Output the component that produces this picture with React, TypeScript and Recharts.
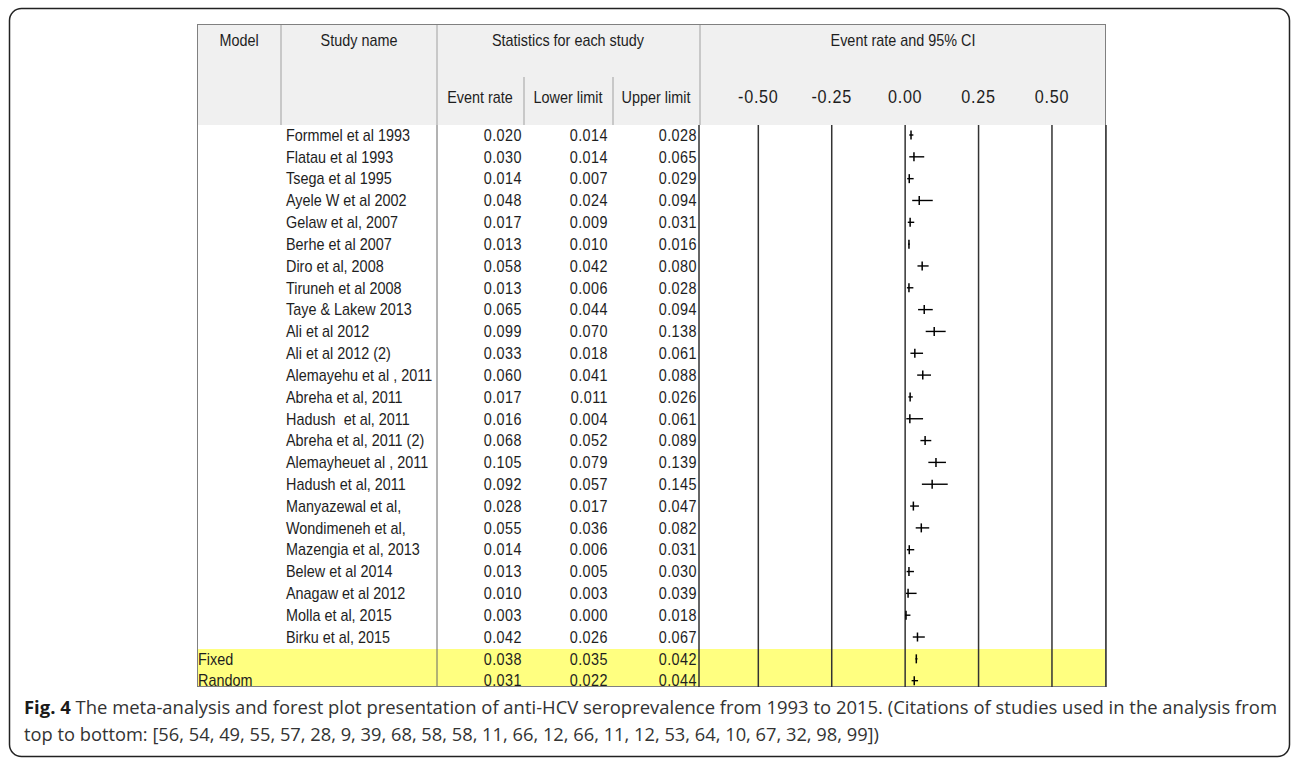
import React from "react";
import { ComposedChart, Scatter, XAxis, YAxis, CartesianGrid, ErrorBar } from "recharts";

const studyNames = [
  "Formmel et al 1993", "Flatau et al 1993", "Tsega et al 1995", "Ayele W et al 2002",
  "Gelaw et al, 2007", "Berhe et al 2007", "Diro et al, 2008", "Tiruneh et al 2008",
  "Taye & Lakew 2013", "Ali et al 2012", "Ali et al 2012 (2)", "Alemayehu et al , 2011",
  "Abreha et al, 2011", "Hadush  et al, 2011", "Abreha et al, 2011 (2)", "Alemayheuet al , 2011",
  "Hadush et al, 2011", "Manyazewal et al,", "Wondimeneh et al,", "Mazengia et al, 2013",
  "Belew et al 2014", "Anagaw et al 2012", "Molla et al, 2015", "Birku et al, 2015",
];
const eventRate = [0.020, 0.030, 0.014, 0.048, 0.017, 0.013, 0.058, 0.013, 0.065, 0.099, 0.033, 0.060,
  0.017, 0.016, 0.068, 0.105, 0.092, 0.028, 0.055, 0.014, 0.013, 0.010, 0.003, 0.042];
const lowerLimit = [0.014, 0.014, 0.007, 0.024, 0.009, 0.010, 0.042, 0.006, 0.044, 0.070, 0.018, 0.041,
  0.011, 0.004, 0.052, 0.079, 0.057, 0.017, 0.036, 0.006, 0.005, 0.003, 0.000, 0.026];
const upperLimit = [0.028, 0.065, 0.029, 0.094, 0.031, 0.016, 0.080, 0.028, 0.094, 0.138, 0.061, 0.088,
  0.026, 0.061, 0.089, 0.139, 0.145, 0.047, 0.082, 0.031, 0.030, 0.039, 0.018, 0.067];

const summaryNames = ["Fixed", "Random"];
const summaryRate = [0.038, 0.031];
const summaryLower = [0.035, 0.022];
const summaryUpper = [0.042, 0.044];

const xTicks = [-0.5, -0.25, 0, 0.25, 0.5];
const xTickLabels = ["-0.50", "-0.25", "0.00", "0.25", "0.50"];

const captionBold = "Fig. 4";
const captionLine1 = " The meta-analysis and forest plot presentation of anti-HCV seroprevalence from 1993 to 2015. (Citations of studies used in the analysis from";
const captionLine2 = "top to bottom: [56, 54, 49, 55, 57, 28, 9, 39, 68, 58, 58, 11, 66, 12, 66, 11, 12, 53, 64, 10, 67, 32, 98, 99])";

const rows = [
  ...studyNames.map((name, i) => ({ name, summary: false, er: eventRate[i], lo: lowerLimit[i], hi: upperLimit[i] })),
  ...summaryNames.map((name, i) => ({ name, summary: true, er: summaryRate[i], lo: summaryLower[i], hi: summaryUpper[i] })),
].map((r, i) => ({ ...r, row: i, err: [r.er - r.lo, r.hi - r.er] }));

const FONT = "'Liberation Sans', Arial, sans-serif";
const FS = 16;
const SX = 0.9;
const TXT = "#1e1e1e";

const W = 1292;
const H = 759;
const T_LEFT = 197;
const T_RIGHT = 1106;
const T_TOP = 24;
const H_BOTTOM = 125;
const T_BOTTOM = 687;
const COL = { name: 286, summary: 198, er: 522, lo: 608, hi: 697 };

// Narrow, tall text like the original bitmap UI font
const T = ({ x, y, anchor = "middle", size = FS, ls = 0, dy, children }: any) => (
  <text
    transform={`translate(${x},${y}) scale(${SX},1)`}
    textAnchor={anchor}
    fontFamily={FONT}
    fontSize={size}
    letterSpacing={ls}
    fill={TXT}
    dy={dy}
    style={{ whiteSpace: "pre" }}
  >
    {children}
  </text>
);

const XTick = (props: any) => {
  const { x, payload } = props;
  const idx = xTicks.indexOf(payload.value);
  return (
    <T x={x} y={103} size={18} ls={0.8}>
      {idx >= 0 ? xTickLabels[idx] : payload.value}
    </T>
  );
};

// Each point: the event-rate tick of the cross, plus the row's table text at the row's y.
const RowMark = (props: any) => {
  const { cx, cy } = props;
  const r = props.payload || props;
  return (
    <g>
      <T x={r.summary ? COL.summary : COL.name} y={cy} anchor="start" dy="0.36em">{r.name}</T>
      <T x={COL.er} y={cy} anchor="end" ls={0.5} dy="0.36em">{r.er.toFixed(3)}</T>
      <T x={COL.lo} y={cy} anchor="end" ls={0.5} dy="0.36em">{r.lo.toFixed(3)}</T>
      <T x={COL.hi} y={cy} anchor="end" ls={0.5} dy="0.36em">{r.hi.toFixed(3)}</T>
      <line x1={cx} x2={cx} y1={cy - 4.5} y2={cy + 4.5} stroke="#000" strokeWidth={1.5} />
    </g>
  );
};

const Background = () => (
  <svg width={W} height={H} style={{ position: "absolute", left: 0, top: 0 }}>
    <rect x={9.5} y={8.5} width={1280} height={748} rx={12} ry={12} fill="#fff" stroke="#222" strokeWidth={1.5} />
    <rect x={T_LEFT} y={T_TOP} width={T_RIGHT - T_LEFT} height={H_BOTTOM - T_TOP} fill="#f0f0f0" />
    <rect x={T_LEFT} y={649} width={T_RIGHT - T_LEFT} height={T_BOTTOM - 649} fill="#ffff80" />
    <line x1={281} x2={281} y1={T_TOP} y2={H_BOTTOM} stroke="#a0a0a0" />
    <line x1={700} x2={700} y1={T_TOP} y2={H_BOTTOM} stroke="#a0a0a0" />
    <line x1={524} x2={524} y1={77} y2={H_BOTTOM} stroke="#a0a0a0" />
    <line x1={613} x2={613} y1={77} y2={H_BOTTOM} stroke="#a0a0a0" />
    <line x1={437} x2={437} y1={T_TOP} y2={H_BOTTOM} stroke="#a0a0a0" />
    <line x1={437} x2={437} y1={H_BOTTOM} y2={T_BOTTOM} stroke="#666" />
    <rect x={T_LEFT + 0.5} y={T_TOP + 0.5} width={T_RIGHT - T_LEFT - 1} height={T_BOTTOM - T_TOP - 1} fill="none" stroke="#808080" />
    <T x={239} y={46}>Model</T>
    <T x={359} y={46}>Study name</T>
    <T x={568} y={46}>Statistics for each study</T>
    <T x={903} y={46}>Event rate and 95% CI</T>
    <T x={480} y={103}>Event rate</T>
    <T x={568} y={103}>Lower limit</T>
    <T x={656} y={103}>Upper limit</T>
    <g fontFamily="'Open Sans', sans-serif" fontSize={18} fill="#333">
      <text x={24} y={714} textLength={1253} lengthAdjust="spacingAndGlyphs">
        <tspan fontWeight="bold" fill="#1a1a1a">{captionBold}</tspan>
        <tspan>{captionLine1}</tspan>
      </text>
      <text x={24} y={741} textLength={855} lengthAdjust="spacingAndGlyphs">{captionLine2}</text>
    </g>
  </svg>
);

export default function App() {
  return (
    <div style={{ position: "absolute", left: 0, top: 0, width: W, height: H, background: "#fff" }}>
      <Background />
      <div style={{ position: "absolute", left: 0, top: 0 }}>
        <ComposedChart width={W} height={H} data={rows} margin={{ top: 95, right: 186, bottom: 72, left: 699 }}>
          <CartesianGrid horizontal={false} vertical={true} stroke="#333" strokeWidth={1.5} />
          <XAxis
            type="number"
            dataKey="er"
            orientation="top"
            height={30}
            domain={[-0.702, 0.684]}
            ticks={xTicks}
            axisLine={false}
            tickLine={false}
            tick={<XTick />}
          />
          <YAxis type="number" dataKey="row" hide reversed domain={[-0.458, 25.29]} />
          <Scatter data={rows} dataKey="er" isAnimationActive={false} shape={<RowMark />}>
            <ErrorBar dataKey="err" direction="x" width={0} stroke="#000" strokeWidth={1.4} />
          </Scatter>
        </ComposedChart>
      </div>
    </div>
  );
}
